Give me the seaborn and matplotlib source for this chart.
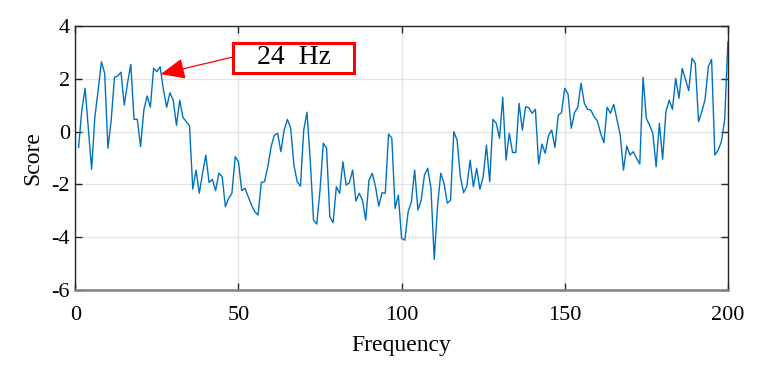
import numpy as np
import seaborn as sns
from matplotlib import pyplot as plt
from matplotlib.patches import Rectangle

# 数据: 频率 1..200 及对应得分
freq = np.arange(1, 201)
score = [
    -0.60, 0.82, 1.65, 0.10, -1.43, 0.57, 1.58, 2.66, 2.22, -0.63,
    0.44, 2.07, 2.12, 2.26, 1.01, 1.84, 2.56, 0.47, 0.47, -0.57,
    0.82, 1.36, 0.93, 2.41, 2.28, 2.47, 1.60, 0.93, 1.48, 1.20,
    0.24, 1.20, 0.54, 0.38, 0.22, -2.18, -1.46, -2.34, -1.58, -0.89,
    -1.93, -1.81, -2.24, -1.58, -1.71, -2.85, -2.53, -2.34, -0.95, -1.14,
    -2.24, -2.15, -2.47, -2.79, -3.04, -3.17, -1.93, -1.90, -1.33, -0.57,
    -0.13, -0.06, -0.76, 0.06, 0.47, 0.13, -1.27, -1.90, -2.07, 0.06,
    0.74, -1.08, -3.36, -3.51, -2.22, -0.44, -0.63, -3.23, -3.46, -2.09,
    -2.34, -1.14, -2.03, -1.94, -1.46, -2.64, -2.34, -2.60, -3.36, -1.84,
    -1.58, -2.09, -2.83, -2.32, -2.34, -0.09, -0.25, -2.92, -2.41, -4.06,
    -4.12, -3.04, -2.66, -1.46, -2.98, -2.60, -1.65, -1.39, -2.15, -4.85,
    -2.85, -1.58, -1.96, -2.72, -2.60, 0.00, -0.32, -1.71, -2.32, -2.07,
    -1.08, -2.09, -1.39, -2.19, -1.71, -0.51, -1.90, 0.47, 0.32, -0.25,
    1.31, -1.08, -0.06, -0.79, -0.79, 1.08, 0.06, 0.95, 0.91, 0.70,
    0.85, -1.23, -0.47, -0.82, -0.16, 0.06, -0.60, 0.63, 0.72, 1.65,
    1.43, 0.13, 0.72, 0.93, 1.84, 1.08, 0.85, 0.82, 0.57, 0.41,
    -0.06, -0.42, 0.93, 0.70, 1.04, 0.47, -0.13, -1.46, -0.54, -0.89,
    -0.76, -1.01, -1.23, 2.07, 0.51, 0.25, -0.06, -1.33, 0.32, -1.05,
    0.76, 1.20, 0.85, 2.03, 1.27, 2.41, 1.99, 1.56, 2.79, 2.60,
    0.38, 0.76, 1.23, 2.47, 2.75, -0.89, -0.70, -0.38, 0.44, 3.42,
]
x_ticks = [0, 50, 100, 150, 200]
y_ticks = [-6, -4, -2, 0, 2, 4]
note_text = "24  Hz"
note_xy = (26.2, 2.19)

sns.set_theme(style="whitegrid")
plt.rcParams['font.family'] = ['Liberation Serif', 'DejaVu Serif']
plt.rcParams['axes.unicode_minus'] = False

fig = plt.figure(figsize=(7.63, 3.78), dpi=100)
ax = fig.add_axes([0.0987, 0.234, 0.8553, 0.696])

sns.lineplot(x=freq, y=score, ax=ax, color='#0072BD', linewidth=1.0, estimator=None)

ax.set_xlim(0, 200)
ax.set_ylim(-6, 4)
ax.set_xticks(x_ticks)
ax.set_yticks(y_ticks)
ax.set_xticklabels([str(t) for t in x_ticks])
ax.set_yticklabels([str(t) for t in y_ticks])

# 网格与边框 (仿 MATLAB 风格)
ax.set_facecolor('white')
ax.grid(True, color='#e3e3e3', linewidth=0.9)
for side in ['top', 'right', 'left']:
    ax.spines[side].set_color('#262626')
    ax.spines[side].set_linewidth(1.0)
    ax.spines[side].set_visible(True)
ax.spines['bottom'].set_color('#808080')
ax.spines['bottom'].set_linewidth(1.8)
ax.tick_params(direction='in', length=5, width=1, color='#262626',
               labelcolor='black', top=True, right=True, bottom=True, left=True,
               labelsize=16)
ax.tick_params(axis='x', pad=12)
ax.tick_params(axis='y', pad=4)

ax.set_xlabel("Frequency", fontsize=17, labelpad=7, color='black')
ax.set_ylabel("Score", fontsize=17, labelpad=6, color='black')

# 标注箭头与文本框
ax.annotate('', xy=note_xy, xycoords='data',
            xytext=(233 / 763, 1 - 57 / 378), textcoords='figure fraction',
            arrowprops=dict(arrowstyle='-|>,head_length=1.5,head_width=0.65',
                            mutation_scale=10, color='red', lw=0.9,
                            shrinkA=0, shrinkB=0))
fig.patches.append(Rectangle((233 / 763, 1 - 72.7 / 378), 121 / 763, 30 / 378,
                             transform=fig.transFigure, facecolor='white',
                             edgecolor='red', linewidth=2.2, zorder=5))
fig.text(293.5 / 763, 1 - 58 / 378, note_text, fontsize=20,
         ha='center', va='center', color='black', zorder=6)

plt.savefig("out.png", dpi=100)
